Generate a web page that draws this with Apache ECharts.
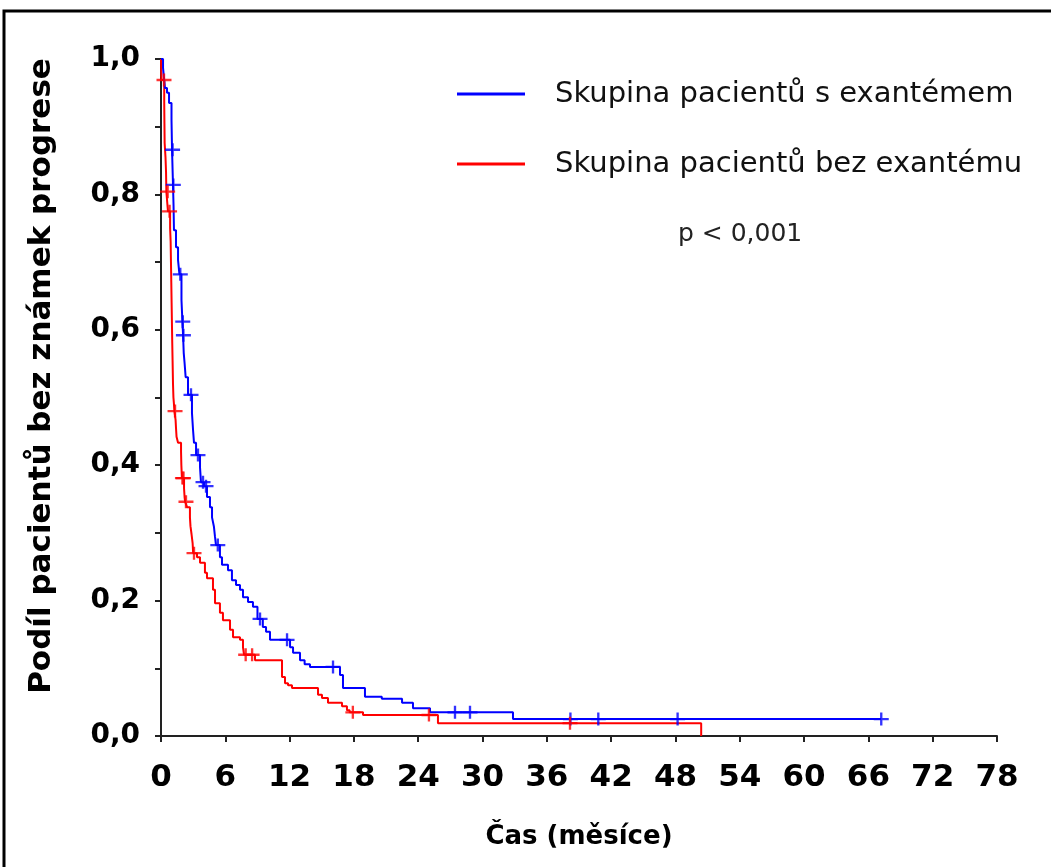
<!DOCTYPE html>
<html>
<head>
<meta charset="utf-8">
<script src="https://cdn.jsdelivr.net/npm/echarts@6/dist/echarts.min.js"></script>
<style>html,body{margin:0;padding:0;background:#fff}#c{width:1051px;height:867px}</style>
</head>
<body>
<div id="c"></div>
<script>
// ---- Data ----
const xTicks = [0, 6, 12, 18, 24, 30, 36, 42, 48, 54, 60, 66, 72, 78];
const seriesNames = ['Skupina pacientů s exantémem', 'Skupina pacientů bez exantému'];
const pValueText = 'p < 0,001';
const yTitle = 'Podíl pacientů bez známek progrese';
const xTitle = 'Čas (měsíce)';

// Blue group: event times (months) and survival after each step
const blueTimes = [0.19,0.37,0.56,0.75,0.98,1.03,1.12,1.17,1.21,1.40,1.59,1.72,1.91,2.00,2.06,2.12,2.20,2.30,2.52,2.89,2.99,3.08,3.27,3.64,3.73,4.01,4.29,4.57,4.76,4.94,5.04,5.13,5.50,5.69,6.25,6.62,7.00,7.37,7.65,8.12,8.58,9.00,9.50,9.80,10.17,12.04,12.32,12.97,13.40,13.90,16.70,16.98,19.03,20.60,22.49,23.51,25.10,32.84];
const blueSurv  = [0.987,0.957,0.950,0.935,0.910,0.866,0.814,0.784,0.747,0.722,0.703,0.682,0.644,0.612,0.592,0.566,0.551,0.530,0.504,0.477,0.452,0.433,0.415,0.397,0.375,0.369,0.353,0.338,0.323,0.309,0.294,0.282,0.264,0.253,0.245,0.230,0.223,0.216,0.205,0.198,0.191,0.173,0.161,0.154,0.142,0.131,0.123,0.112,0.106,0.102,0.090,0.071,0.058,0.055,0.049,0.041,0.035,0.025];
const blueEnd = 67.2;
const blueCensTimes = [1.08,1.15,1.80,2.03,2.09,2.80,3.45,3.92,4.20,5.30,9.24,11.76,16.05,27.43,28.83,38.2,40.8,48.2,67.2];
const blueCensSurv  = [0.866,0.814,0.682,0.612,0.592,0.504,0.415,0.375,0.369,0.282,0.173,0.142,0.102,0.035,0.035,0.025,0.025,0.025,0.025];

// Red group
const redTimes = [0.05,0.30,0.32,0.34,0.42,0.47,0.50,0.65,0.85,0.90,0.93,0.96,0.99,1.02,1.05,1.08,1.12,1.16,1.20,1.25,1.36,1.40,1.45,1.59,1.87,1.90,1.95,2.15,2.20,2.25,2.43,2.70,2.75,2.85,2.95,3.00,3.36,3.64,4.10,4.29,4.85,5.04,5.50,5.78,6.44,6.72,7.37,7.65,7.75,8.77,11.29,11.57,11.85,12.22,14.65,15.02,15.58,16.89,17.35,17.60,18.85,25.84,50.40];
const redSurv  = [0.969,0.937,0.905,0.876,0.855,0.833,0.804,0.775,0.750,0.730,0.700,0.670,0.640,0.610,0.580,0.555,0.520,0.500,0.492,0.480,0.467,0.455,0.442,0.433,0.420,0.400,0.381,0.366,0.353,0.346,0.338,0.323,0.310,0.298,0.285,0.270,0.264,0.256,0.241,0.233,0.216,0.196,0.182,0.171,0.157,0.146,0.142,0.131,0.120,0.112,0.087,0.078,0.075,0.071,0.061,0.056,0.049,0.044,0.038,0.035,0.031,0.019,0.000];
const redEnd = 50.40;
const redCensTimes = [0.28,0.62,0.80,1.31,2.00,2.10,2.33,3.08,7.90,8.50,17.90,25.0,38.16];
const redCensSurv  = [0.969,0.804,0.775,0.480,0.381,0.381,0.346,0.270,0.120,0.120,0.035,0.031,0.019];

// ---- Build ----
function kmData(times, surv, end) {
  const d = [[0, 1]];
  for (let i = 0; i < times.length; i++) d.push([times[i], surv[i]]);
  if (end > times[times.length - 1]) d.push([end, surv[surv.length - 1]]);
  return d;
}
function zip(a, b) { return a.map((v, i) => [v, b[i]]); }

const BLUE = '#0000ff', RED = '#ff0000';
const plus = 'path://M6.75,0 H9.25 V5.75 H16 V8.25 H9.25 V14 H6.75 V8.25 H0 V5.75 H6.75 Z';
const FONT = 'DejaVu Sans';

const chart = echarts.init(document.getElementById('c'), null, {renderer: 'canvas'});
chart.setOption({
  animation: false,
  backgroundColor: '#fff',
  grid: {left: 161, right: 54, top: 59, bottom: 131, containLabel: false},
  legend: {
    data: seriesNames,
    orient: 'vertical',
    left: 452, top: 74,
    itemWidth: 68, itemHeight: 3,
    itemGap: 40,
    icon: 'rect',
    textStyle: {fontFamily: FONT, fontSize: 29, color: '#111', lineHeight: 30, padding: [0, 0, 0, 25]}
  },
  xAxis: {
    type: 'value', min: 0, max: 78, interval: 6,
    splitLine: {show: false},
    axisLine: {lineStyle: {color: '#222', width: 2}},
    axisTick: {length: 6, lineStyle: {color: '#222', width: 2}},
    axisLabel: {fontFamily: FONT, fontWeight: 'bold', fontSize: 31, color: '#000', margin: 26,
      formatter: v => xTicks.includes(v) ? String(v) : ''},
    name: xTitle, nameLocation: 'middle', nameGap: 88,
    nameTextStyle: {fontFamily: FONT, fontWeight: 'bold', fontSize: 26, color: '#000'}
  },
  yAxis: {
    type: 'value', min: 0, max: 1, interval: 0.1,
    splitLine: {show: false},
    axisLine: {lineStyle: {color: '#222', width: 2}},
    axisTick: {length: 6, lineStyle: {color: '#222', width: 2}},
    axisLabel: {fontFamily: FONT, fontWeight: 'bold', fontSize: 28, color: '#000', margin: 21,
      formatter: v => (Math.round(v * 10) % 2 === 0) ? v.toFixed(1).replace('.', ',') : ''}
  },
  graphic: [
    {type: 'rect', shape: {x: 4, y: 11, width: 1200, height: 1000}, style: {fill: 'none', stroke: '#000', lineWidth: 3}, z: 100},
    {type: 'text', left: 678, top: 222, style: {text: pValueText, fontFamily: FONT, fontSize: 25, fill: '#222'}},
    {type: 'text', x: 42, y: 376, rotation: Math.PI / 2,
     style: {text: yTitle, fontFamily: FONT, fontWeight: 'bold', fontSize: 31, fill: '#000',
             textAlign: 'center', textVerticalAlign: 'middle', align: 'center', verticalAlign: 'middle'}}
  ],
  series: [
    {name: seriesNames[0], type: 'line', step: 'end', data: kmData(blueTimes, blueSurv, blueEnd),
     showSymbol: false, color: BLUE, lineStyle: {width: 2, color: BLUE}, z: 3},
    {name: seriesNames[1], type: 'line', step: 'end', data: kmData(redTimes, redSurv, redEnd),
     showSymbol: false, color: RED, lineStyle: {width: 2, color: RED}, z: 2},
    {name: 'blueCens', type: 'scatter', data: zip(blueCensTimes, blueCensSurv), symbol: plus,
     symbolSize: [15, 13], symbolKeepAspect: false, itemStyle: {color: BLUE}, z: 4},
    {name: 'redCens', type: 'scatter', data: zip(redCensTimes, redCensSurv), symbol: plus,
     symbolSize: [15, 13], symbolKeepAspect: false, itemStyle: {color: RED}, z: 4}
  ]
});
</script>
</body>
</html>
